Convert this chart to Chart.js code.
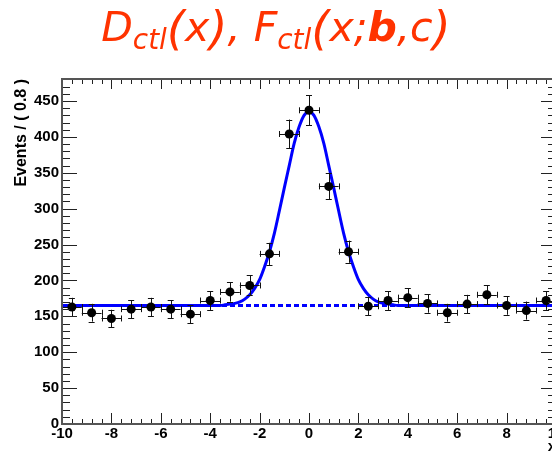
<!DOCTYPE html>
<html>
<head>
<meta charset="utf-8">
<script src="https://cdn.jsdelivr.net/npm/chart.js@4/dist/chart.umd.min.js"></script>
<style>
  html, body { margin: 0; padding: 0; background: #fff; overflow: hidden; width: 552px; height: 453px; }
  #wrap { position: relative; width: 552px; height: 453px; overflow: hidden; }
  canvas { position: absolute; left: 0; top: 0; }
  #title {
    position: absolute; left: 0; top: 1px; width: 552px; text-align: center;
    font-family: "DejaVu Sans", sans-serif; font-style: italic; font-size: 41px;
    line-height: 52px; color: #ff3300; white-space: nowrap;
  }
  #title sub { font-size: 0.68em; vertical-align: -0.3em; line-height: 0; }
  #title b { font-weight: bold; }
  #title .p { font-size: 1.14em; vertical-align: -0.06em; line-height: 0; }
</style>
</head>
<body>
<div id="wrap">
  <canvas id="chart" width="575" height="453"></canvas>
  <div id="title">D<sub>ctl</sub><span class="p">(</span>x<span class="p">)</span>, F<sub>ctl</sub><span class="p">(</span>x;<b>b</b>,c<span class="p">)</span></div>
</div>
<script>
// Binned data: centres of the 0.8-wide bins, counts and their errors
const binCenters = [-9.6, -8.8, -8.0, -7.2, -6.4, -5.6, -4.8, -4.0, -3.2, -2.4, -1.6, -0.8, 0.0,
                    0.8, 1.6, 2.4, 3.2, 4.0, 4.8, 5.6, 6.4, 7.2, 8.0, 8.8, 9.6];
const events = [163, 155, 147, 160, 163, 160, 153, 172, 184, 193, 237, 404, 437,
                331, 240, 164, 172, 176, 168, 155, 167, 180, 165, 158, 172];
const eventErrors = [12.8, 12.4, 12.1, 12.6, 12.8, 12.6, 12.4, 13.1, 13.6, 13.9, 15.4, 20.1, 20.9,
                     18.2, 15.5, 12.8, 13.1, 13.3, 13.0, 12.4, 12.9, 13.4, 12.8, 12.6, 13.1];
const binHalfWidth = 0.4;

// Fitted model F_ctl: signal peak on top of a flat background
const curveX = [-10, -6, -4.4, -4.0, -3.8, -3.6, -3.4, -3.2, -3.0, -2.8, -2.6, -2.4, -2.2, -2.0,
                -1.8, -1.6, -1.4, -1.2, -1.0, -0.8, -0.6, -0.4, -0.2, 0.0, 0.2, 0.4, 0.6, 0.8,
                1.0, 1.2, 1.4, 1.6, 1.8, 2.0, 2.2, 2.4, 2.6, 2.8, 3.0, 3.2, 3.4, 3.6, 3.8, 4.0,
                4.4, 6, 10];
const curveY = [165, 165, 165, 165, 165, 165, 166, 167, 168, 170, 174, 180, 189, 201,
                219, 240, 266, 297, 329, 360, 391, 414, 430, 435, 430, 414, 391, 360,
                329, 297, 266, 240, 219, 201, 189, 180, 174, 170, 168, 167, 166, 165, 165, 165,
                165, 165, 165];
// Background-only component
const backgroundX = [-10, 10];
const backgroundY = [165, 165];

const xRange = [-10, 10];
const yRange = [0, 480.6];
const xTickValues = [-10, -8, -6, -4, -2, 0, 2, 4, 6, 8, 10];
const yTickValues = [0, 50, 100, 150, 200, 250, 300, 350, 400, 450];

const pointData = binCenters.map((x, i) => ({ x, y: events[i] }));
const curveData = curveX.map((x, i) => ({ x, y: curveY[i] }));
const backgroundData = backgroundX.map((x, i) => ({ x, y: backgroundY[i] }));

// Error bars with end caps, drawn just before the markers
const errorBars = {
  id: 'errorBars',
  beforeDatasetDraw(chart, args) {
    if (args.index !== 0) return;
    const { ctx, scales: { x, y } } = chart;
    ctx.save();
    ctx.strokeStyle = '#111';
    ctx.lineWidth = 1;
    const cap = 3;
    binCenters.forEach((xc, i) => {
      const px = x.getPixelForValue(xc);
      const py = y.getPixelForValue(events[i]);
      const yLo = y.getPixelForValue(events[i] - eventErrors[i]);
      const yHi = y.getPixelForValue(events[i] + eventErrors[i]);
      const xLo = x.getPixelForValue(xc - binHalfWidth);
      const xHi = x.getPixelForValue(xc + binHalfWidth);
      ctx.beginPath();
      ctx.moveTo(Math.round(px) + 0.5, yLo); ctx.lineTo(Math.round(px) + 0.5, yHi);
      ctx.moveTo(px - cap, Math.round(yLo) + 0.5); ctx.lineTo(px + cap, Math.round(yLo) + 0.5);
      ctx.moveTo(px - cap, Math.round(yHi) + 0.5); ctx.lineTo(px + cap, Math.round(yHi) + 0.5);
      ctx.moveTo(xLo, Math.round(py) + 0.5); ctx.lineTo(xHi, Math.round(py) + 0.5);
      ctx.moveTo(Math.round(xLo) + 0.5, py - cap); ctx.lineTo(Math.round(xLo) + 0.5, py + cap);
      ctx.moveTo(Math.round(xHi) + 0.5, py - cap); ctx.lineTo(Math.round(xHi) + 0.5, py + cap);
      ctx.stroke();
    });
    ctx.restore();
  }
};

// Frame with inward-pointing major and minor ticks on all four sides
const frame = {
  id: 'frame',
  afterDatasetsDraw(chart) {
    const { ctx, chartArea: a, scales: { x, y } } = chart;
    ctx.save();
    ctx.strokeStyle = '#222';
    ctx.lineWidth = 1;
    ctx.beginPath();
    for (let i = 0; i <= 50; i++) {
      const v = xRange[0] + i * 0.4;
      const px = Math.round(x.getPixelForValue(v)) + 0.5;
      const major = i % 5 === 0;
      ctx.moveTo(px, a.bottom); ctx.lineTo(px, a.bottom - (major ? 11 : 5));
      ctx.moveTo(px, a.top); ctx.lineTo(px, a.top + (major ? 10 : 5));
    }
    for (let i = 0; i * 10 <= yRange[1]; i++) {
      const v = i * 10;
      const py = Math.round(y.getPixelForValue(v)) + 0.5;
      const major = i % 5 === 0;
      ctx.moveTo(a.left, py); ctx.lineTo(a.left + (major ? 15 : 8), py);
      ctx.moveTo(a.right, py); ctx.lineTo(a.right - (major ? 15 : 8), py);
    }
    ctx.stroke();
    ctx.strokeStyle = '#555';
    ctx.lineWidth = 2;
    ctx.strokeRect(a.left, a.top, a.right - a.left, a.bottom - a.top);
    ctx.restore();
  }
};

const labelFont = { family: '"Liberation Sans", Arial, sans-serif', size: 15, weight: 'bold' };

new Chart(document.getElementById('chart'), {
  type: 'scatter',
  data: {
    datasets: [
      {
        data: pointData, order: 0,
        pointRadius: 4.5, pointHoverRadius: 4.5,
        pointBackgroundColor: '#000', pointBorderWidth: 0, showLine: false
      },
      {
        data: curveData, order: 1, showLine: true, pointRadius: 0,
        borderColor: '#0000ff', borderWidth: 3, cubicInterpolationMode: 'monotone'
      },
      {
        data: backgroundData, order: 2, showLine: true, pointRadius: 0,
        borderColor: '#0000ff', borderWidth: 3, borderDash: [5, 3]
      }
    ]
  },
  options: {
    responsive: false,
    animation: false,
    events: [],
    layout: { padding: { left: 0, top: 79, right: 19, bottom: 0 } },
    plugins: { legend: { display: false }, tooltip: { enabled: false }, title: { display: false } },
    scales: {
      x: {
        type: 'linear', min: xRange[0], max: xRange[1],
        grid: { display: false, drawTicks: false },
        border: { display: false },
        afterBuildTicks: s => { s.ticks = xTickValues.map(v => ({ value: v })); },
        afterFit: s => { s.height = 29; },
        ticks: { font: labelFont, color: '#000', padding: 1, maxRotation: 0, autoSkip: false,
                 callback: v => String(v) },
        title: { display: true, text: 'x', align: 'end', color: '#000',
                 font: { family: '"Liberation Sans", Arial, sans-serif', size: 15, weight: 'bold' },
                 padding: { top: 0, bottom: -3 } }
      },
      y: {
        type: 'linear', min: yRange[0], max: yRange[1],
        grid: { display: false, drawTicks: false },
        border: { display: false },
        afterBuildTicks: s => { s.ticks = yTickValues.map(v => ({ value: v })); },
        afterFit: s => { s.width = 62; },
        ticks: { font: labelFont, color: '#000', padding: 3, autoSkip: false,
                 callback: v => String(v) },
        title: { display: true, text: 'Events / ( 0.8 )', align: 'end', color: '#000',
                 font: { family: '"Liberation Sans", Arial, sans-serif', size: 16, weight: 'bold' },
                 padding: { top: 12, bottom: 0 } }
      }
    }
  },
  plugins: [errorBars, frame]
});
</script>
</body>
</html>
